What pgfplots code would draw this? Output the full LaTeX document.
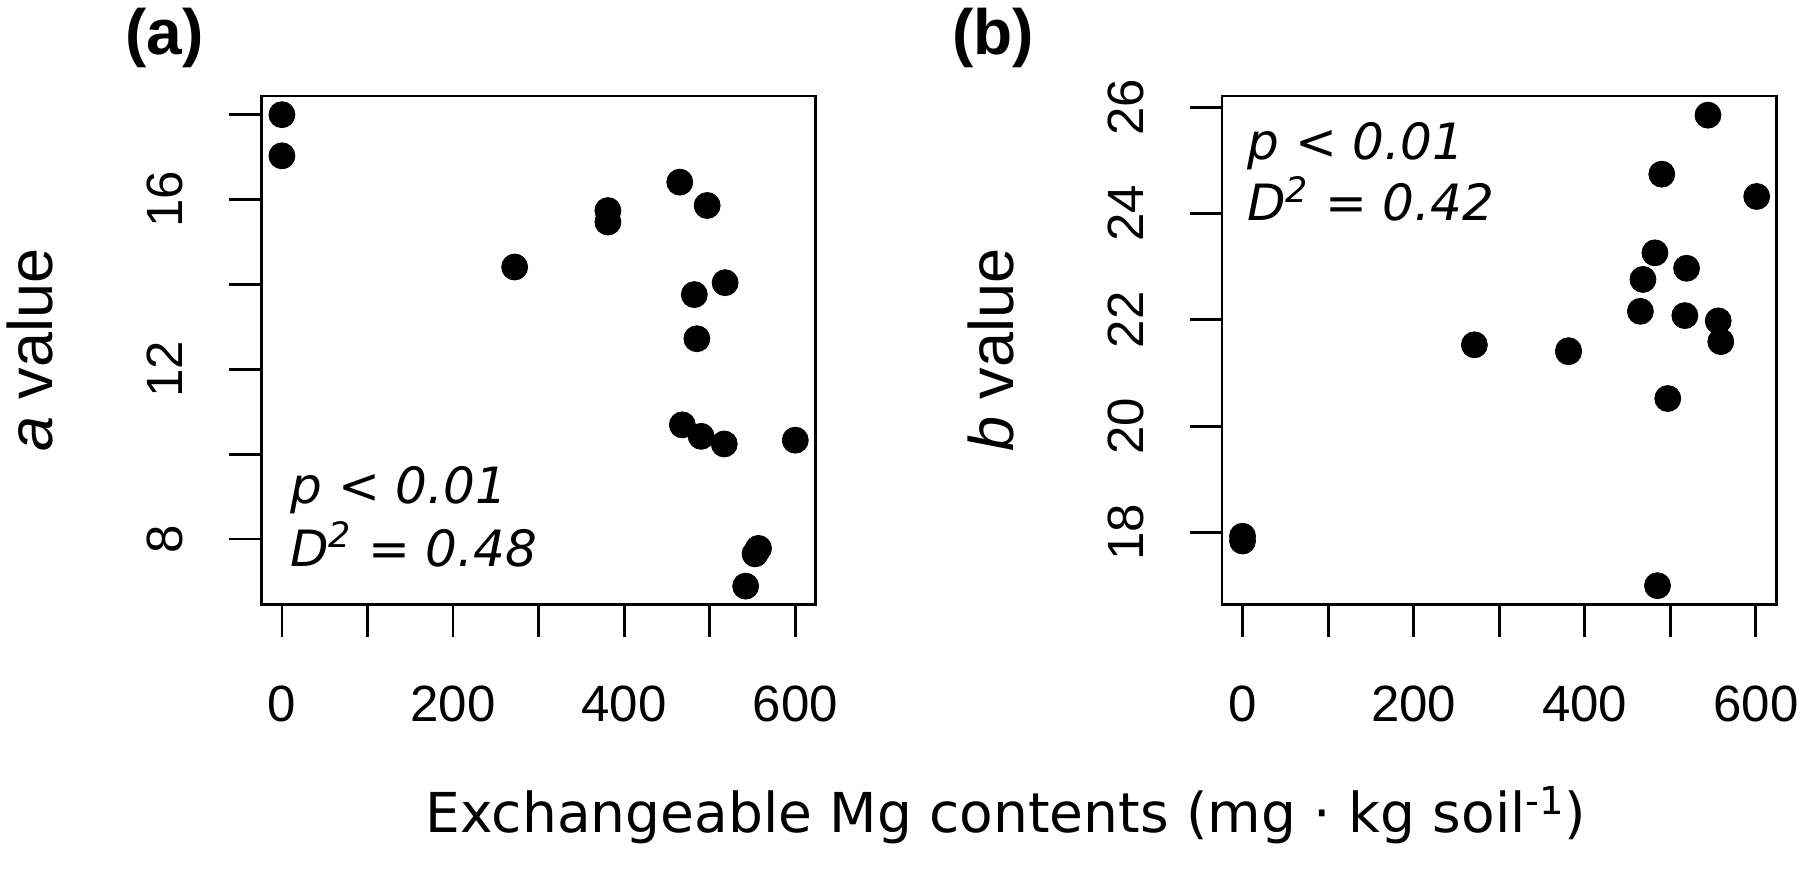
\documentclass[border=0pt]{standalone}
\usepackage{fontspec}
\setmainfont{Liberation Sans}
\newfontfamily\dvs{DejaVu Sans}
\usepackage{pgfplots}
\pgfplotsset{compat=1.18}
\pgfplotstableread{
x y
0 18.0
0 17.03
272 14.41
381 15.74
381 15.47
465 16.41
468 10.69
482 13.76
485 12.72
490 10.42
497 15.86
517 10.24
518 14.04
542 6.89
553 7.65
557 7.78
600 10.33
}\dataA
\pgfplotstableread{
x y
0 17.93
0 17.84
271 21.53
381 21.40
381 21.42
465 22.16
468 22.76
482 23.26
485 17.00
490 24.74
497 20.52
517 22.08
519 22.97
544 25.85
556 21.98
559 21.59
601 24.32
}\dataB
\pgfplotsset{
  rpanel/.style={
    scale only axis,
    width=277.2pt, height=254.4pt,
    anchor=south west,
    xmin=-24, xmax=624,
    xtick={0,100,...,600},
    xtick pos=bottom, ytick pos=left,
    tick align=outside,
    major tick length=16pt,
    tick style={line width=1.4pt, black},
    axis line style={line width=1.4pt},
    every tick label/.append style={font=\fontsize{25.5}{30}\selectfont},
    xticklabel style={anchor=center, yshift=-33.6pt},
    yticklabel style={xshift=-32.2pt, rotate=90, anchor=center},
    every axis y label/.style={at={(axis description cs:-0.377,0.5)}, rotate=90, anchor=base, font=\fontsize{31.5}{36}\selectfont},
    scaled ticks=false,
  },
}
\begin{document}
\begin{tikzpicture}
\path[use as bounding box] (0,0) rectangle (902pt,437pt);
\begin{axis}[rpanel, at={(130.7pt,134.6pt)},
  ymin=6.45, ymax=18.44,
  ytick={8,10,...,18}, yticklabels={8,,12,,16,},
  xticklabels={0,,200,,400,,600},
  ylabel={\textit{a} value}]
\addplot[only marks, mark=*, mark size=6.5pt, mark options={fill=black, draw=black}] table[x=x,y=y] {\dataA};
\end{axis}
\begin{axis}[rpanel, at={(611pt,134.6pt)},
  ymin=16.64, ymax=26.21,
  ytick={18,20,...,26}, yticklabels={18,20,22,24,26},
  xticklabels={0,,200,,400,,600},
  ylabel={\textit{b} value}]
\addplot[only marks, mark=*, mark size=6.5pt, mark options={fill=black, draw=black}] table[x=x,y=y] {\dataB};
\end{axis}
\node[anchor=base, font=\bfseries\fontsize{32}{36}\selectfont] at (82.3pt,409.5pt) {(a)};
\node[anchor=base, font=\bfseries\fontsize{32}{36}\selectfont] at (496.5pt,409.5pt) {(b)};
\node[anchor=base west, inner sep=0pt, font=\dvs\itshape\fontsize{25}{30}\selectfont] at (145pt,185.3pt) {p < 0.01};
\node[anchor=base west, inner sep=0pt, font=\dvs\itshape\fontsize{25}{30}\selectfont] at (145pt,154pt) {D\textsuperscript{2} = 0.48};
\node[anchor=base west, inner sep=0pt, font=\dvs\itshape\fontsize{25}{30}\selectfont] at (623.5pt,357.3pt) {p < 0.01};
\node[anchor=base west, inner sep=0pt, font=\dvs\itshape\fontsize{25}{30}\selectfont] at (623.5pt,326.5pt) {D\textsuperscript{2} = 0.42};
\node[anchor=base, inner sep=0pt, font=\dvs\fontsize{27.5}{32}\selectfont] at (503pt,20.8pt) {Exchangeable Mg contents (mg · kg soil\textsuperscript{-1})};
\end{tikzpicture}
\end{document}
